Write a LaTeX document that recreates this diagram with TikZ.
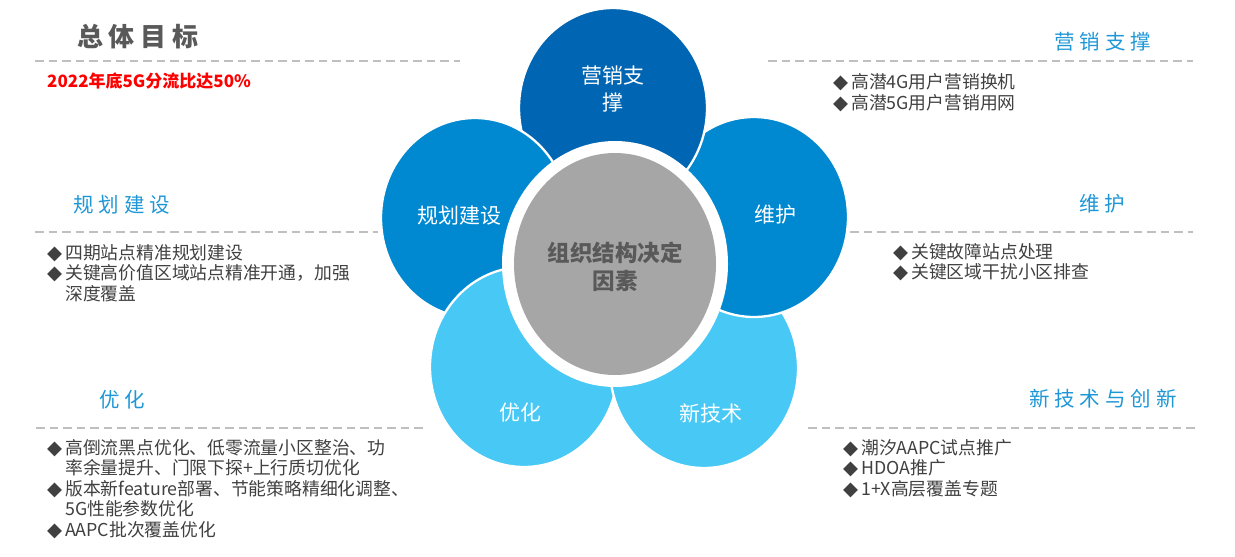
\documentclass[tikz,border=0pt]{standalone}
\usepackage{fontspec}
\setmainfont{Noto Sans CJK SC}
\newfontfamily\symfont{DejaVu Sans}
\definecolor{topblue}{HTML}{0066B3}
\definecolor{midblue}{HTML}{0089D1}
\definecolor{lightblue}{HTML}{47C8F5}
\definecolor{coregray}{HTML}{A6A6A6}
\definecolor{coretext}{HTML}{595959}
\definecolor{headblue}{HTML}{1F97D6}
\definecolor{bodytext}{HTML}{404040}
\definecolor{dashgray}{HTML}{BFBFBF}
\definecolor{goalred}{HTML}{FF0000}
\newcommand\dia{\makebox[18pt][l]{\raisebox{-0.5pt}{\symfont\fontsize{19.5}{19.5}\selectfont ◆}}}
\begin{document}
\begin{tikzpicture}[x=1pt,y=-1pt,
  petal/.style={fill=#1, draw=white, line width=2.3pt},
  petaltext/.style={text=white, inner sep=0pt, font=\fontsize{21}{27}\selectfont, align=center},
  headtext/.style={text=headblue, inner sep=0pt, font=\fontsize{20.5}{24}\selectfont},
  itemtext/.style={text=bodytext, inner sep=0pt, anchor=west, font=\fontsize{17.8}{20}\selectfont},
  dashline/.style={draw=dashgray, line width=2pt, dash pattern=on 8.5pt off 5pt}]
\useasboundingbox (0,0) rectangle (1235,557);

% dashed separator lines
\draw[dashline] (35,61) -- (460,61);
\draw[dashline] (768,61) -- (1193,61);
\draw[dashline] (35,232) -- (378,232);
\draw[dashline] (850,232) -- (1193,232);
\draw[dashline] (36,428) -- (425,428);
\draw[dashline] (808,428) -- (1195,428);

% petals (cyclic overlap)
\path[petal=midblue] (754,217) ellipse [x radius=94pt, y radius=100pt];
\path[petal=topblue] (613,108) ellipse [x radius=94pt, y radius=100pt];
\path[petal=midblue] (475,218) ellipse [x radius=94pt, y radius=100pt];
\path[petal=lightblue] (524,367) ellipse [x radius=94pt, y radius=100pt];
\path[petal=lightblue] (704,368) ellipse [x radius=94pt, y radius=100pt];
\begin{scope}
  \clip (640,245) rectangle (870,330);
  \path[petal=midblue] (754,217) ellipse [x radius=94pt, y radius=100pt];
\end{scope}

% core
\fill[white] (615,264) ellipse [x radius=113pt, y radius=123pt];
\fill[coregray] (615,264) ellipse [x radius=101pt, y radius=111pt];
\node[text=coretext, inner sep=0pt, align=center, font=\fontsize{22.5}{28}\bfseries\selectfont] (core) at (615,267) {组织结构决定\\因素};

% petal labels
\node[petaltext] (p1) at (613,89) {营销支\\撑};
\node[petaltext] (p2) at (459,216) {规划建设};
\node[petaltext] (p3) at (775,215) {维护};
\node[petaltext] (p4) at (520,413) {优化};
\node[petaltext] (p5) at (711,413) {新技术};

% title and goal
\node[text=coretext, inner sep=0pt, font=\fontsize{26}{30}\bfseries\selectfont] (title) at (138,37) {总\hspace{6pt}体\hspace{6pt}目\hspace{6pt}标};
\node[text=goalred, inner sep=0pt, anchor=west, font=\fontsize{17}{20}\bfseries\selectfont] (goal) at (47,81) {2022年底5G分流比达50\%};

% section heads
\node[headtext] (h1) at (1103,42) {营\hspace{5pt}销\hspace{5pt}支\hspace{5pt}撑};
\node[headtext] (h2) at (122,205) {规\hspace{5pt}划\hspace{5pt}建\hspace{5pt}设};
\node[headtext] (h3) at (1102,204) {维\hspace{5pt}护};
\node[headtext] (h4) at (122,400) {优\hspace{5pt}化};
\node[headtext] (h5) at (1103,399) {新\hspace{5pt}技\hspace{5pt}术\hspace{5pt}与\hspace{5pt}创\hspace{5pt}新};

% lists
\node[itemtext] (a1) at (833,82) {\dia 高潜4G用户营销换机};
\node[itemtext] (a2) at (833,103) {\dia 高潜5G用户营销用网};

\node[itemtext] (b1) at (47,253) {\dia 四期站点精准规划建设};
\node[itemtext] (b2) at (47,273) {\dia 关键高价值区域站点精准开通，加强};
\node[itemtext] (b3) at (65,294) {深度覆盖};

\node[itemtext] (c1) at (893,252) {\dia 关键故障站点处理};
\node[itemtext] (c2) at (893,272) {\dia 关键区域干扰小区排查};

\node[itemtext] (d1) at (47,448) {\dia 高倒流黑点优化、低零流量小区整治、功};
\node[itemtext] (d2) at (65,468) {率余量提升、门限下探+上行质切优化};
\node[itemtext] (d3) at (47,489) {\dia 版本新feature部署、节能策略精细化调整、};
\node[itemtext] (d4) at (65,509) {5G性能参数优化};
\node[itemtext] (d5) at (47,530) {\dia AAPC批次覆盖优化};

\node[itemtext] (e1) at (843,448) {\dia 潮汐AAPC试点推广};
\node[itemtext] (e2) at (843,468) {\dia HDOA推广};
\node[itemtext] (e3) at (843,489) {\dia 1+X高层覆盖专题};
\end{tikzpicture}
\end{document}
